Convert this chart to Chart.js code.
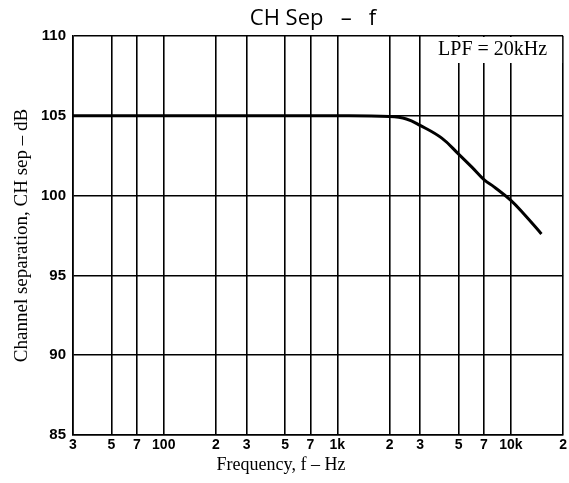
<!DOCTYPE html>
<html>
<head>
<meta charset="utf-8">
<script src="https://cdn.jsdelivr.net/npm/chart.js@4"></script>
<style>
  html, body { margin: 0; padding: 0; background: #fff; }
  #wrap { width: 569px; height: 483px; }
</style>
</head>
<body>
<div id="wrap"><canvas id="sep-chart" width="569" height="483"></canvas></div>
<script>
// frequency (Hz) and channel separation (dB)
var freqs = [30, 100, 1000, 2000, 2500, 3000, 4000, 5000, 6000, 7000, 8000, 10000, 12000, 15000];
var sepValues = [105, 105, 105, 104.95, 104.8, 104.4, 103.6, 102.6, 101.75, 101.0, 100.55, 99.7, 98.8, 97.6];

var tickFreqs = [30, 50, 70, 100, 200, 300, 500, 700, 1000, 2000, 3000, 5000, 7000, 10000, 20000];
var tickLabels = ["3", "5", "7", "100", "2", "3", "5", "7", "1k", "2", "3", "5", "7", "10k", "2"];
var yTicks = [85, 90, 95, 100, 105, 110];

var points = freqs.map(function (f, i) { return { x: f, y: sepValues[i] }; });

// title, x-axis caption and the white LPF box (left edge on the 3k line)
var extras = {
  id: 'extras',
  afterDraw: function (chart) {
    var ctx = chart.ctx, xs = chart.scales.x, a = chart.chartArea;
    ctx.save();
    ctx.fillStyle = '#000';
    ctx.textAlign = 'center';
    ctx.textBaseline = 'middle';
    ctx.font = '500 22px "Open Sans", sans-serif';
    ctx.fillText('CH Sep   –   f', 313, 19);

    ctx.font = '18px "Liberation Serif", serif';
    ctx.fillText('Frequency, f – Hz', 281, 465);

    var left = xs.getPixelForValue(3000);
    ctx.fillStyle = '#fff';
    ctx.fillRect(left + 1, a.top + 1, a.right - left - 2, 26);
    ctx.fillStyle = '#000';
    ctx.font = '20px "Liberation Serif", serif';
    ctx.fillText('LPF = 20kHz', (left + a.right) / 2 + 1, a.top + 14);
    ctx.restore();
  }
};

new Chart(document.getElementById('sep-chart'), {
  type: 'line',
  data: {
    datasets: [{
      data: points,
      borderColor: '#000',
      borderWidth: 3,
      pointRadius: 0,
      fill: false,
      tension: 0.4
    }]
  },
  options: {
    responsive: false,
    animation: false,
    layout: { padding: { left: 0, right: 4, top: 36, bottom: 8 } },
    plugins: {
      legend: { display: false },
      tooltip: { enabled: false },
      title: { display: false }
    },
    scales: {
      x: {
        type: 'logarithmic',
        min: 30,
        max: 20000,
        afterBuildTicks: function (s) {
          s.ticks = tickFreqs.map(function (v) { return { value: v }; });
        },
        afterFit: function (s) { s.height = 40; },
        ticks: {
          autoSkip: false,
          maxRotation: 0,
          color: '#000',
          padding: 2,
          font: { family: '"Liberation Sans", sans-serif', size: 14, weight: 'bold' },
          callback: function (v, i) { return tickLabels[i]; }
        },
        grid: { color: '#000', lineWidth: 1.6, drawTicks: false },
        border: { color: '#000', width: 1.6 },
        title: { display: false }
      },
      y: {
        min: 85,
        max: 110,
        afterBuildTicks: function (s) {
          s.ticks = yTicks.map(function (v) { return { value: v }; });
        },
        afterFit: function (s) { s.width = 73; },
        ticks: {
          color: '#000',
          padding: 7,
          font: { family: '"Liberation Sans", sans-serif', size: 15, weight: 'bold' }
        },
        grid: { color: '#000', lineWidth: 1.6, drawTicks: false },
        border: { color: '#000', width: 1.6 },
        title: {
          display: true,
          text: 'Channel separation, CH sep – dB',
          color: '#000',
          font: { family: '"Liberation Serif", serif', size: 19 },
          padding: { top: 11, bottom: 0 }
        }
      }
    }
  },
  plugins: [extras]
});
</script>
</body>
</html>
